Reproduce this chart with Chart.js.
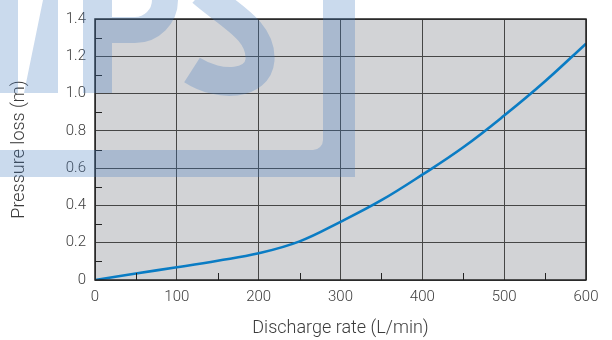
<!DOCTYPE html>
<html>
<head>
<meta charset="utf-8">
<script src="https://cdn.jsdelivr.net/npm/chart.js@4/dist/chart.umd.min.js"></script>
<style>
  html, body { margin: 0; padding: 0; background: #fff; }
  #wrap { width: 612px; height: 340px; }
</style>
</head>
<body>
<div id="wrap"><canvas id="chart" width="612" height="340"></canvas></div>
<script>
// discharge rate (L/min) vs pressure loss (m)
const flowRates = [0, 50, 100, 150, 200, 250, 300, 350, 400, 450, 500, 550, 600];
const pressureLoss = [0, 0.035, 0.068, 0.103, 0.143, 0.207, 0.312, 0.428, 0.565, 0.712, 0.882, 1.066, 1.268];

const xTicks = [0, 100, 200, 300, 400, 500, 600];
const yTicks = [0, 0.2, 0.4, 0.6, 0.8, 1.0, 1.2, 1.4];
const xMinorTicks = [50, 150, 250, 350, 450, 550];
const yMinorTicks = [0.1, 0.3, 0.5, 0.7, 0.9, 1.1, 1.3];

const FONT = 'Roboto, "Liberation Sans", sans-serif';

// faint logo watermark sitting over the top-left of the figure
function drawWatermark(ctx) {
  const off = document.createElement('canvas');
  off.width = 612;
  off.height = 340;
  const o = off.getContext('2d');
  o.fillStyle = o.strokeStyle = 'rgb(65,121,190)';
  o.beginPath();
  o.moveTo(0, 0); o.lineTo(18, 0); o.lineTo(18, 93); o.lineTo(0, 93); o.closePath();
  o.moveTo(43, 0); o.lineTo(58, 0); o.lineTo(58, 93); o.lineTo(24, 93); o.closePath();
  o.rect(83, 0, 29, 93);
  o.moveTo(323, 0); o.lineTo(355, 0); o.lineTo(355, 177); o.lineTo(0, 177); o.lineTo(0, 150);
  o.lineTo(313, 150); o.arcTo(323, 150, 323, 140, 10); o.closePath();
  o.fill();
  o.lineWidth = 26;
  o.beginPath();
  o.moveTo(105, 30); o.lineTo(135, 30); o.arc(135, 0, 30, Math.PI / 2, -Math.PI / 2, true);
  o.stroke();
  o.lineWidth = 29;
  o.beginPath();
  o.moveTo(202, -8);
  o.bezierCurveTo(228, 15, 262, 30, 260, 60);
  o.bezierCurveTo(258, 85, 220, 88, 192, 70);
  o.stroke();
  ctx.save();
  ctx.globalAlpha = 0.28;
  ctx.drawImage(off, 0, 0);
  ctx.restore();
}

const frame = {
  id: 'frame',
  beforeDraw(chart) {
    const { ctx, chartArea: a } = chart;
    ctx.save();
    ctx.fillStyle = '#d2d3d6';
    ctx.fillRect(a.left, a.top, a.right - a.left, a.bottom - a.top);
    ctx.restore();
  },
  afterDatasetsDraw(chart) {
    const { ctx, chartArea: a, scales } = chart;
    ctx.save();
    ctx.strokeStyle = '#222';
    ctx.lineWidth = 1;
    ctx.beginPath();
    xMinorTicks.forEach(v => {
      const x = Math.round(scales.x.getPixelForValue(v)) + 0.5;
      ctx.moveTo(x, a.bottom);
      ctx.lineTo(x, a.bottom - 7);
    });
    yMinorTicks.forEach(v => {
      const y = Math.round(scales.y.getPixelForValue(v)) + 0.5;
      ctx.moveTo(a.left, y);
      ctx.lineTo(a.left + 7, y);
    });
    ctx.stroke();
    ctx.lineWidth = 1.5;
    ctx.strokeRect(a.left, a.top, a.right - a.left, a.bottom - a.top);
    ctx.restore();
  },
  afterDraw(chart) {
    drawWatermark(chart.ctx);
  }
};

new Chart(document.getElementById('chart'), {
  type: 'line',
  data: {
    datasets: [{
      data: flowRates.map((x, i) => ({ x: x, y: pressureLoss[i] })),
      borderColor: '#0a7cc4',
      borderWidth: 2.6,
      pointRadius: 0,
      fill: false,
      tension: 0.4
    }]
  },
  options: {
    responsive: false,
    animation: false,
    layout: { padding: { left: 0, right: 26, top: 19, bottom: 0 } },
    plugins: { legend: { display: false }, tooltip: { enabled: false } },
    scales: {
      x: {
        type: 'linear',
        min: 0,
        max: 600,
        afterBuildTicks: s => { s.ticks = xTicks.map(v => ({ value: v })); },
        afterFit: s => { s.height = 60; },
        grid: { color: '#464646', lineWidth: 1, drawTicks: false },
        border: { display: false },
        ticks: { color: '#3c3c3c', padding: 8, font: { family: FONT, size: 15, weight: 300 } },
        title: {
          display: true,
          text: 'Discharge rate (L/min)',
          color: '#3c3c3c',
          padding: { top: 0, bottom: 1 },
          font: { family: FONT, size: 18, weight: 300 }
        }
      },
      y: {
        min: 0,
        max: 1.4,
        afterBuildTicks: s => { s.ticks = yTicks.map(v => ({ value: v })); },
        afterFit: s => { s.width = 95; },
        grid: { color: '#464646', lineWidth: 1, drawTicks: false },
        border: { display: false },
        ticks: {
          color: '#3c3c3c',
          padding: 9,
          font: { family: FONT, size: 15, weight: 300 },
          callback: v => (v === 0 ? '0' : v.toFixed(1))
        },
        title: {
          display: true,
          text: 'Pressure loss (m)',
          color: '#3c3c3c',
          padding: { top: 9, bottom: 0 },
          font: { family: FONT, size: 18, weight: 300 }
        }
      }
    }
  },
  plugins: [frame]
});
</script>
</body>
</html>
